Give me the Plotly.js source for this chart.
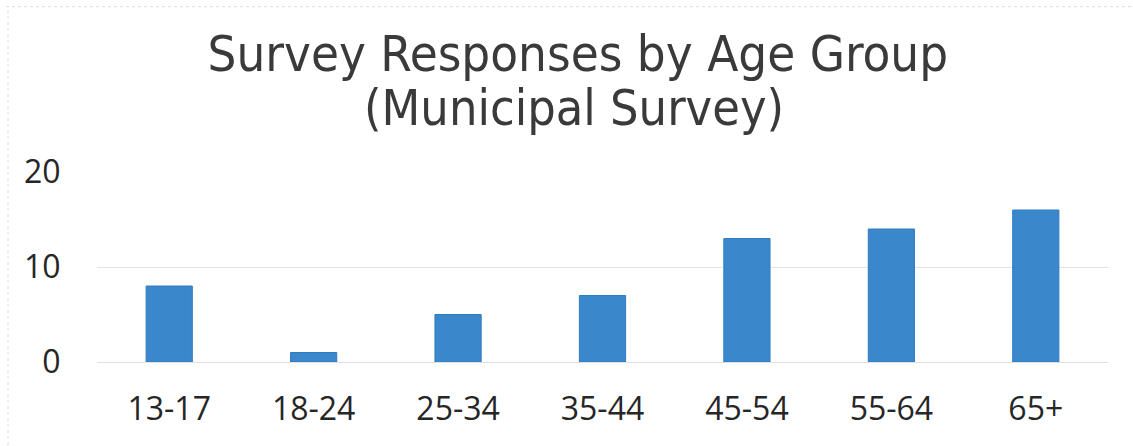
<!DOCTYPE html>
<html>
<head>
<meta charset="utf-8">
<script src="https://cdn.plot.ly/plotly-3.0.1.min.js"></script>
<style>
  html, body { margin: 0; padding: 0; background: #ffffff; }
  #chart { width: 1133px; height: 446px; }
</style>
</head>
<body>
<div id="chart"></div>
<script>
// Age groups and number of survey responses in each
const ageGroups = ['13-17', '18-24', '25-34', '35-44', '45-54', '55-64', '65+'];
const responses = [8, 1, 5, 7, 13, 14, 16];
const yTicks = [0, 10, 20];
const titleLine = 'Survey Responses by Age Group';
const subtitleLine = '(Municipal Survey)';

const titleFamily = 'DejaVu Sans Condensed, DejaVu Sans, sans-serif';
const tickFont = { family: 'Open Sans, sans-serif', size: 32, color: '#262626' };

const trace = {
  type: 'bar',
  x: ageGroups,
  y: responses,
  marker: {
    color: '#3b87cc',
    line: { color: '#2f7cc3', width: 1 }
  },
  hoverinfo: 'x+y'
};

const layout = {
  width: 1133,
  height: 446,
  paper_bgcolor: '#ffffff',
  plot_bgcolor: '#ffffff',
  margin: { l: 97, r: 25, t: 172, b: 84 },
  bargap: 0.68,
  showlegend: false,
  title: {
    text: titleLine,
    font: { family: titleFamily, size: 50.6, color: '#3a3a3a' },
    x: 0.51,
    xanchor: 'center',
    y: 0.88,
    yanchor: 'middle'
  },
  annotations: [
    {
      text: subtitleLine,
      font: { family: titleFamily, size: 50, color: '#3a3a3a' },
      xref: 'paper', yref: 'paper',
      x: 0.472, xanchor: 'center',
      y: 1.335, yanchor: 'middle',
      showarrow: false
    }
  ],
  xaxis: {
    type: 'category',
    showgrid: false,
    zeroline: false,
    showline: false,
    ticks: 'outside',
    ticklen: 19,
    tickcolor: 'rgba(0,0,0,0)',
    tickfont: tickFont
  },
  yaxis: {
    range: [0, 20],
    tickvals: yTicks,
    ticktext: yTicks.map(String),
    showgrid: true,
    gridcolor: '#e4e4e4',
    gridwidth: 1,
    zeroline: true,
    zerolinecolor: '#e0e0e0',
    zerolinewidth: 1,
    showline: false,
    ticks: 'outside',
    ticklen: 29,
    tickcolor: 'rgba(0,0,0,0)',
    tickfont: tickFont,
    fixedrange: true
  },
  shapes: [
    // faint outer frame of the chart area
    { type: 'line', xref: 'paper', yref: 'paper', x0: -0.09, x1: 1.03, y0: 1.87, y1: 1.87,
      line: { color: '#dcdcdc', width: 1, dash: 'dot' } },
    { type: 'line', xref: 'paper', yref: 'paper', x0: -0.088, x1: -0.088, y0: -0.5, y1: 1.87,
      line: { color: '#dcdcdc', width: 1, dash: 'dot' } }
  ]
};

Plotly.newPlot('chart', [trace], layout, { displayModeBar: false, staticPlot: true });
</script>
</body>
</html>
